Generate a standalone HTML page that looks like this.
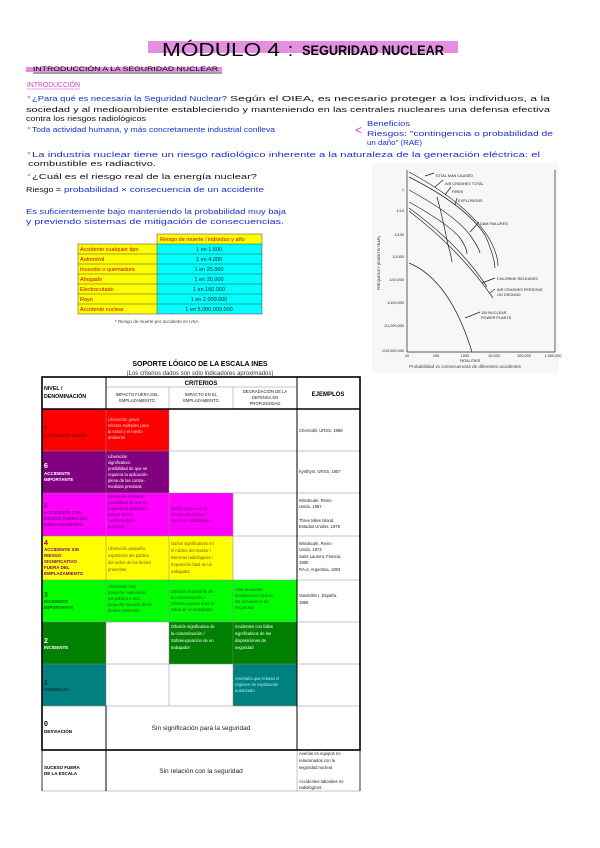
<!DOCTYPE html>
<html><head><meta charset="utf-8"><style>
html,body{margin:0;padding:0;background:#fff;}
svg{display:block}
.h{font-family:"Liberation Sans",sans-serif;}
.s{font-family:"Liberation Sans",sans-serif;font-size:4.2px;fill:#222}
.w{font-family:"Liberation Sans",sans-serif;font-size:4.2px;fill:#fff}
</style></head><body>
<svg width="600" height="848" viewBox="0 0 600 848" xmlns="http://www.w3.org/2000/svg">
<rect width="600" height="848" fill="#fff"/>
<rect x="148" y="41" width="310" height="12" fill="#e58fe2"/>
<text x="162" y="56" class="h" font-size="18" textLength="118" lengthAdjust="spacingAndGlyphs">MÓDULO 4</text>
<text x="288" y="56" class="h" font-size="18">:</text>
<text x="302" y="55" class="h" font-size="14" font-weight="bold" textLength="142" lengthAdjust="spacingAndGlyphs">SEGURIDAD NUCLEAR</text>
<rect x="26" y="67" width="196" height="5" fill="#e58fe2"/>
<text x="33" y="71" class="h" font-size="6" textLength="185" lengthAdjust="spacingAndGlyphs">INTRODUCCIÓN A LA SEGURIDAD NUCLEAR</text>
<line x1="33" y1="73" x2="222" y2="73" stroke="#000" stroke-width="0.7"/>
<text x="27" y="87" class="h" font-size="7.5" fill="#d040c0" textLength="53" lengthAdjust="spacingAndGlyphs">INTRODUCCIÓN</text>
<line x1="27" y1="89" x2="80" y2="89" stroke="#d040c0" stroke-width="0.6"/>
<g class="h" font-size="7.5">
<circle cx="29" cy="97" r="1.3" fill="#e58fe2"/>
<text x="32" y="101" fill="#1a2fd0" textLength="195" lengthAdjust="spacingAndGlyphs">¿Para qué es necesaria la Seguridad Nuclear?</text>
<text x="230" y="101" fill="#111" textLength="320" lengthAdjust="spacingAndGlyphs">Según el OIEA, es necesario proteger a los individuos, a la</text>
<text x="26" y="112" fill="#111" textLength="524" lengthAdjust="spacingAndGlyphs">sociedad y al medioambiente estableciendo y manteniendo en las centrales nucleares una defensa efectiva</text>
<text x="26" y="121" fill="#111" textLength="120" lengthAdjust="spacingAndGlyphs">contra los riesgos radiológicos</text>
<circle cx="29" cy="128" r="1.3" fill="#e58fe2"/>
<text x="32" y="132" fill="#1a2fd0" textLength="243" lengthAdjust="spacingAndGlyphs">Toda actividad humana, y más concretamente industrial conlleva</text>
<text x="355" y="134" fill="#d040c0" font-size="12">&lt;</text>
<text x="367" y="126" fill="#1a2fd0" textLength="43" lengthAdjust="spacingAndGlyphs">Beneficios</text>
<text x="367" y="136" fill="#1a2fd0" textLength="186" lengthAdjust="spacingAndGlyphs">Riesgos: "contingencia o probabilidad de</text>
<text x="367" y="145" fill="#1a2fd0" textLength="55" lengthAdjust="spacingAndGlyphs">un daño" (RAE)</text>
<circle cx="29" cy="153" r="1.3" fill="#e58fe2"/>
<text x="32" y="157" fill="#1a2fd0" textLength="508" lengthAdjust="spacingAndGlyphs">La industria nuclear tiene un riesgo radiológico inherente a la naturaleza de la generación eléctrica: el</text>
<text x="28" y="166" fill="#111" textLength="128" lengthAdjust="spacingAndGlyphs">combustible es radiactivo.</text>
<circle cx="29" cy="175" r="1.3" fill="#e58fe2"/>
<text x="32" y="179" fill="#111" textLength="225" lengthAdjust="spacingAndGlyphs">¿Cuál es el riesgo real de la energía nuclear?</text>
<text x="26" y="192" fill="#111" textLength="35" lengthAdjust="spacingAndGlyphs">Riesgo =</text>
<text x="64" y="192" fill="#1a2fd0" textLength="200" lengthAdjust="spacingAndGlyphs">probabilidad × consecuencia de un accidente</text>
<text x="26" y="214" fill="#1a2fd0" textLength="260" lengthAdjust="spacingAndGlyphs">Es suficientemente bajo manteniendo la probabilidad muy baja</text>
<text x="26" y="224" fill="#1a2fd0" textLength="258" lengthAdjust="spacingAndGlyphs">y previendo sistemas de mitigación de consecuencias.</text>
</g>
<g>
<rect x="157" y="234" width="105" height="10" fill="#ffff00"/>
<rect x="78" y="244" width="79" height="70" fill="#ffff00"/>
<rect x="157" y="244" width="105" height="70" fill="#00ffff"/>
<g stroke="#444" stroke-width="0.5" fill="none">
<rect x="78" y="244" width="184" height="70"/>
<line x1="157" y1="234" x2="157" y2="314"/><line x1="157" y1="234" x2="262" y2="234"/><line x1="262" y1="234" x2="262" y2="244"/>
<line x1="78" y1="254" x2="262" y2="254"/><line x1="78" y1="264" x2="262" y2="264"/><line x1="78" y1="274" x2="262" y2="274"/><line x1="78" y1="284" x2="262" y2="284"/><line x1="78" y1="294" x2="262" y2="294"/><line x1="78" y1="304" x2="262" y2="304"/>
</g>
<g class="h" font-size="5.5" fill="#c00">
<text x="160" y="241">Riesgo de muerte / individuo y año</text>
<text x="80" y="251">Accidente cualquier tipo</text><text x="80" y="261">Automóvil</text><text x="80" y="271">Incendio o quemadura</text><text x="80" y="281">Ahogado</text><text x="80" y="291">Electrocutado</text><text x="80" y="301">Rayo</text><text x="80" y="311">Accidente nuclear</text>
</g>
<g class="h" font-size="5.5" fill="#222" text-anchor="middle">
<text x="209" y="251">1 en 1.600</text><text x="209" y="261">1 en 4.000</text><text x="209" y="271">1 en 25.000</text><text x="209" y="281">1 en 30.000</text><text x="209" y="291">1 en 160.000</text><text x="209" y="301">1 en 2.000.000</text><text x="209" y="311">1 en 5.000.000.000</text>
</g>
<text x="115" y="323" class="h" font-size="4.5" fill="#444">* Riesgo de muerte por accidente en USA</text>
</g>
<rect x="372" y="163" width="187" height="210" fill="#f7f7f7"/>
<g stroke="#222" stroke-width="0.7" fill="none">
<line x1="407" y1="170" x2="407" y2="352"/><line x1="407" y1="352" x2="555" y2="352"/><line x1="555" y1="170" x2="555" y2="352"/>
<path d="M409 172 Q470 205 490 240 Q498 255 498 266"/>
<path d="M409 177 Q465 205 485 235 Q494 255 495 268"/>
<path d="M409 190 Q455 215 470 235 Q479 248 480 253"/>
<path d="M409 202 Q450 225 460 238 Q467 248 467 254"/>
<path d="M409 208 Q460 245 487 287"/>
<path d="M409 211 Q460 250 493 298"/>
<path d="M437 197 Q442 215 448 245 Q451 255 452 262"/>
<path d="M409 263 Q450 280 472 352"/>
<path d="M425 176 L434 173"/><path d="M435 187 L443 180"/><path d="M445 195 L451 187"/><path d="M455 205 L457 198"/><path d="M470 232 L479 222"/><path d="M482 283 L495 278"/><path d="M490 293 L495 289"/><path d="M465 318 L480 312"/>
</g>
<g class="h" font-size="3.8" fill="#222">
<text x="435" y="177">TOTAL MAN CAUSED</text><text x="445" y="185">AIR CRASHES TOTAL</text><text x="452" y="193">FIRES</text><text x="458" y="202">EXPLOSIONS</text><text x="480" y="225">DAM FAILURES</text><text x="497" y="280">CHLORINE RELEASES</text><text x="497" y="291">AIR CRASHES PERSONS</text><text x="497" y="296">ON GROUND</text><text x="481" y="314">100 NUCLEAR</text><text x="481" y="319">POWER PLANTS</text>
<text x="404" y="191" text-anchor="end">1</text><text x="404" y="212" text-anchor="end">1/10</text><text x="404" y="236" text-anchor="end">1/100</text><text x="404" y="258" text-anchor="end">1/1000</text><text x="404" y="281" text-anchor="end">1/10,000</text><text x="404" y="304" text-anchor="end">1/100,000</text><text x="404" y="327" text-anchor="end">1/1,000,000</text><text x="404" y="352" text-anchor="end">1/10,000,000</text>
<text x="407" y="357" text-anchor="middle">10</text><text x="436" y="357" text-anchor="middle">100</text><text x="465" y="357" text-anchor="middle">1000</text><text x="494" y="357" text-anchor="middle">10,000</text><text x="524" y="357" text-anchor="middle">100,000</text><text x="553" y="357" text-anchor="middle">1,000,000</text>
<text x="470" y="362" text-anchor="middle">FATALITIES</text>
<text x="380" y="290" transform="rotate(-90 380 290)">FREQUENCY (EVENTS/YEAR)</text>
</g>
<text x="465" y="368" class="h" font-size="4.5" fill="#444" text-anchor="middle">Probabilidad vs consecuencias de diferentes accidentes</text>
<text x="200" y="366" class="h" font-size="7" font-weight="bold" text-anchor="middle">SOPORTE LÓGICO DE LA ESCALA INES</text>
<text x="200" y="375" class="h" font-size="6" fill="#333" text-anchor="middle">(Los criterios dados son sólo indicadores aproximados)</text>
<rect x="42" y="409" width="64" height="42" fill="#ff0000"/><rect x="106" y="409" width="63" height="42" fill="#ff0000"/>
<rect x="42" y="451" width="127" height="42" fill="#800080"/>
<rect x="42" y="493" width="191" height="43" fill="#ff00ff"/>
<rect x="42" y="536" width="191" height="44" fill="#ffff00"/>
<rect x="42" y="580" width="255" height="42" fill="#00ff00"/>
<rect x="42" y="622" width="64" height="42" fill="#008000"/><rect x="169" y="622" width="128" height="42" fill="#008000"/>
<rect x="42" y="664" width="64" height="42" fill="#008080"/><rect x="233" y="664" width="64" height="42" fill="#008080"/>
<g stroke="#888" stroke-width="0.5" fill="none">
<line x1="106" y1="409" x2="106" y2="791"/><line x1="169" y1="387" x2="169" y2="706"/><line x1="233" y1="387" x2="233" y2="409"/><line x1="233" y1="493" x2="233" y2="706"/>
<line x1="297" y1="409" x2="297" y2="791"/>
<line x1="106" y1="387" x2="297" y2="387"/>
<line x1="42" y1="451" x2="360" y2="451"/><line x1="42" y1="493" x2="360" y2="493"/><line x1="42" y1="536" x2="360" y2="536"/><line x1="42" y1="580" x2="360" y2="580"/><line x1="42" y1="622" x2="360" y2="622"/><line x1="42" y1="664" x2="360" y2="664"/><line x1="42" y1="706" x2="360" y2="706"/>
<line x1="106" y1="377" x2="106" y2="409"/><line x1="297" y1="377" x2="297" y2="409"/>
<line x1="42" y1="791" x2="360" y2="791"/>
</g>
<g stroke="#000" fill="none">
<rect x="42" y="377" width="318" height="373" stroke-width="1.6"/>
<line x1="42" y1="409" x2="360" y2="409" stroke-width="1.4"/>
<line x1="106" y1="377" x2="106" y2="409" stroke-width="1"/><line x1="297" y1="377" x2="297" y2="750" stroke-width="1"/>
<line x1="106" y1="706" x2="106" y2="791" stroke-width="1"/>
<line x1="42" y1="750" x2="42" y2="791" stroke-width="0.8"/><line x1="360" y1="750" x2="360" y2="791" stroke-width="0.8"/>
</g>
<g class="h" font-size="5.3" font-weight="bold">
<text x="44" y="390">NIVEL /</text><text x="44" y="398">DENOMINACIÓN</text>
<text x="201" y="385" text-anchor="middle" font-size="6">CRITERIOS</text>
<text x="328" y="396" text-anchor="middle" font-size="6">EJEMPLOS</text>
</g>
<g class="s" text-anchor="middle">
<text x="137" y="396">IMPACTO FUERA DEL</text><text x="137" y="402">EMPLAZAMIENTO</text>
<text x="201" y="396">IMPACTO EN EL</text><text x="201" y="402">EMPLAZAMIENTO</text>
<text x="265" y="393">DEGRADACIÓN DE LA</text><text x="265" y="399">DEFENSA EN</text><text x="265" y="405">PROFUNDIDAD</text>
</g>
<g class="h" font-weight="bold">
<text x="44" y="431" font-size="7" fill="#800000">7</text><text x="44" y="437" font-size="4.5" fill="#800000">ACCIDENTE GRAVE</text>
<text x="44" y="468" font-size="7" fill="#fff">6</text><text x="44" y="475" font-size="4.5" fill="#fff">ACCIDENTE</text><text x="44" y="481" font-size="4.5" fill="#fff">IMPORTANTE</text>
<text x="44" y="508" font-size="7" fill="#800080">5</text><text x="44" y="514" font-size="4.5" fill="#800080">ACCIDENTE CON</text><text x="44" y="520" font-size="4.5" fill="#800080">RIESGO FUERA DEL</text><text x="44" y="526" font-size="4.5" fill="#800080">EMPLAZAMIENTO</text>
<text x="44" y="545" font-size="7" fill="#800080">4</text><text x="44" y="551" font-size="4.5" fill="#800080">ACCIDENTE SIN</text><text x="44" y="557" font-size="4.5" fill="#800080">RIESGO</text><text x="44" y="563" font-size="4.5" fill="#800080">SIGNIFICATIVO</text><text x="44" y="569" font-size="4.5" fill="#800080">FUERA DEL</text><text x="44" y="575" font-size="4.5" fill="#800080">EMPLAZAMIENTO</text>
<text x="44" y="597" font-size="7" fill="#006000">3</text><text x="44" y="603" font-size="4.5" fill="#006000">INCIDENTE</text><text x="44" y="609" font-size="4.5" fill="#006000">IMPORTANTE</text>
<text x="44" y="643" font-size="7" fill="#fff">2</text><text x="44" y="649" font-size="4.5" fill="#fff">INCIDENTE</text>
<text x="44" y="685" font-size="7" fill="#003030">1</text><text x="44" y="691" font-size="4.5" fill="#003030">ANOMALÍA</text>
<text x="44" y="726" font-size="7" fill="#000">0</text><text x="44" y="733" font-size="4.5" fill="#000">DESVIACIÓN</text>
<text x="44" y="769" font-size="4.5" fill="#000">SUCESO FUERA</text><text x="44" y="775" font-size="4.5" fill="#000">DE LA ESCALA</text>
</g>
<g class="s">
<text x="108" y="421" fill="#ffcccc">Liberación grave:</text><text x="108" y="427" fill="#ffcccc">efectos múltiples para</text><text x="108" y="433" fill="#ffcccc">la salud y el medio</text><text x="108" y="439" fill="#ffcccc">ambiente</text>
</g>
<g class="w">
<text x="108" y="458">Liberación</text><text x="108" y="464">significativa:</text><text x="108" y="470">posibilidad de que se</text><text x="108" y="476">requiera la aplicación</text><text x="108" y="482">plena de las contra-</text><text x="108" y="488">medidas previstas</text>
<text x="171" y="628">Difusión significativa de</text><text x="171" y="635">la contaminación /</text><text x="171" y="642">Sobreexposición de un</text><text x="171" y="649">trabajador</text>
<text x="235" y="628">Incidentes con fallos</text><text x="235" y="635">significativos de las</text><text x="235" y="642">disposiciones de</text><text x="235" y="649">seguridad</text>
</g>
<g class="s">
<text x="108" y="498" fill="#600060">Liberación limitada:</text><text x="108" y="504" fill="#600060">posibilidad de que se</text><text x="108" y="510" fill="#600060">requiera la aplicación</text><text x="108" y="516" fill="#600060">parcial de las</text><text x="108" y="522" fill="#600060">contramedidas</text><text x="108" y="528" fill="#600060">previstas</text>
<text x="171" y="510" fill="#600060">Daños graves en el</text><text x="171" y="516" fill="#600060">núcleo del reactor /</text><text x="171" y="522" fill="#600060">Barreras radiológicas</text>
<text x="108" y="550" fill="#805000">Liberación pequeña:</text><text x="108" y="557" fill="#805000">exposición del público</text><text x="108" y="564" fill="#805000">del orden de los límites</text><text x="108" y="571" fill="#805000">prescritos</text>
<text x="171" y="545" fill="#805000">Daños significativos en</text><text x="171" y="552" fill="#805000">el núcleo del reactor /</text><text x="171" y="559" fill="#805000">Barreras radiológicas /</text><text x="171" y="566" fill="#805000">Exposición fatal de un</text><text x="171" y="573" fill="#805000">trabajador</text>
<text x="108" y="588" fill="#206020">Liberación muy</text><text x="108" y="594" fill="#206020">pequeña: exposición</text><text x="108" y="600" fill="#206020">del público a una</text><text x="108" y="606" fill="#206020">pequeña fracción de los</text><text x="108" y="612" fill="#206020">límites prescritos</text>
<text x="171" y="593" fill="#206020">Difusión importante de</text><text x="171" y="599" fill="#206020">la contaminación /</text><text x="171" y="605" fill="#206020">Efectos agudos para la</text><text x="171" y="611" fill="#206020">salud de un trabajador</text>
<text x="235" y="591" fill="#206020">Casi accidente:</text><text x="235" y="597" fill="#206020">desaparición total de</text><text x="235" y="603" fill="#206020">las provisiones de</text><text x="235" y="609" fill="#206020">seguridad</text>
<text x="235" y="680" fill="#b0f0f0">Anomalía que rebasa el</text><text x="235" y="686" fill="#b0f0f0">régimen de explotación</text><text x="235" y="692" fill="#b0f0f0">autorizado</text>
<text x="299" y="432">Chernobil, URSS, 1986</text>
<text x="299" y="473">Kysthym, URSS, 1957</text>
<text x="299" y="502">Windscale, Reino</text><text x="299" y="508">Unido, 1957</text><text x="299" y="522">Three Miles Island,</text><text x="299" y="528">Estados Unidos, 1979</text>
<text x="299" y="545">Windscale, Reino</text><text x="299" y="551">Unido, 1973</text><text x="299" y="558">Saint Laurent, Francia,</text><text x="299" y="564">1980</text><text x="299" y="571">RA-2, Argentina, 1983</text>
<text x="299" y="597">Vandellós I, España,</text><text x="299" y="604">1989</text>
<text x="299" y="755">Averías en equipos no</text><text x="299" y="762">relacionados con la</text><text x="299" y="769">seguridad nuclear.</text><text x="299" y="783">Accidentes laborales no</text><text x="299" y="789">radiológicos.</text>
</g>
<text x="201" y="730" class="h" font-size="6.5" fill="#222" text-anchor="middle">Sin significación para la seguridad</text>
<text x="201" y="773" class="h" font-size="6.5" fill="#222" text-anchor="middle">Sin relación con la seguridad</text>
</svg>
</body></html>
